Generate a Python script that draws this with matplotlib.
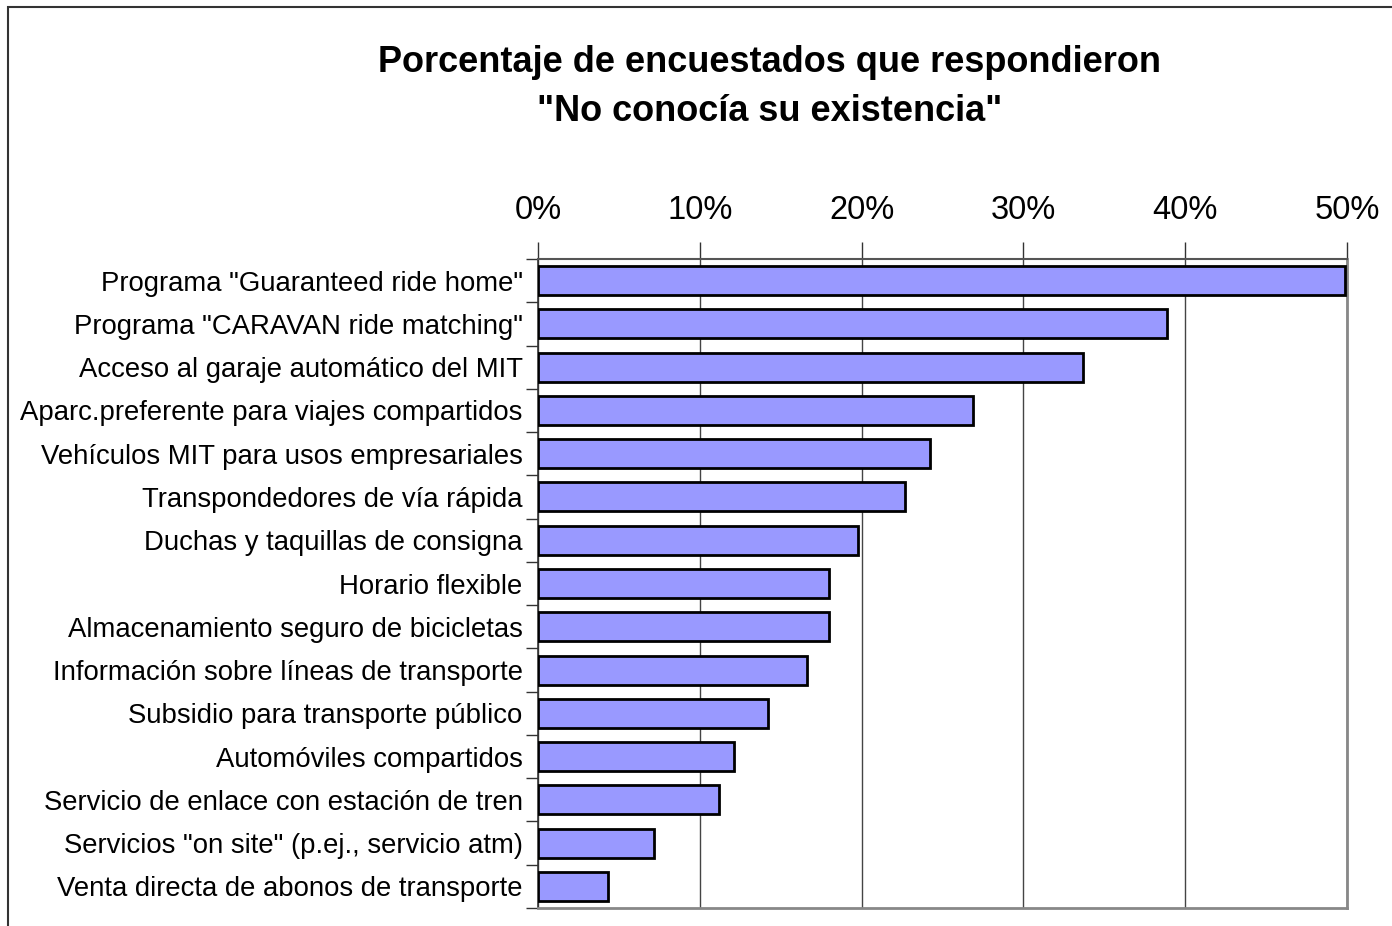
import matplotlib
matplotlib.use("Agg")
import matplotlib.pyplot as plt
import numpy as np
from matplotlib.patches import Rectangle

plt.rcParams['font.family'] = ['Liberation Sans', 'DejaVu Sans']

categories = [
    'Programa "Guaranteed ride home"',
    'Programa "CARAVAN ride matching"',
    'Acceso al garaje automático del MIT',
    'Aparc.preferente para viajes compartidos',
    'Vehículos MIT para usos empresariales',
    'Transpondedores de vía rápida',
    'Duchas y taquillas de consigna',
    'Horario flexible',
    'Almacenamiento seguro de bicicletas',
    'Información sobre líneas de transporte',
    'Subsidio para transporte público',
    'Automóviles compartidos',
    'Servicio de enlace con estación de tren',
    'Servicios "on site" (p.ej., servicio atm)',
    'Venta directa de abonos de transporte',
]
values = [49.9, 38.9, 33.7, 26.9, 24.2, 22.7, 19.8, 18.0, 18.0, 16.6, 14.2, 12.1, 11.2, 7.2, 4.3]
xticks = [0, 10, 20, 30, 40, 50]
xtick_labels = ['0%', '10%', '20%', '30%', '40%', '50%']
title = 'Porcentaje de encuestados que respondieron\n"No conocía su existencia"'

fig = plt.figure(figsize=(13.92, 9.26), dpi=100)
ax = fig.add_axes([538/1392, 1-908/926, (1347-538)/1392, (908-259)/926])

y = np.arange(len(categories))
ax.barh(y, values, height=0.67, color='#9999FF', edgecolor='black', linewidth=2, zorder=3)
ax.set_ylim(len(categories)-0.5, -0.5)
ax.set_xlim(0, 50)

ax.xaxis.tick_top()
ax.set_xticks(xticks)
ax.set_xticklabels(xtick_labels, fontsize=23.5)
ax.tick_params(axis='x', which='major', direction='out', length=12, width=1, color='#333333', pad=12)
ax.grid(axis='x', color='#444444', linewidth=1, zorder=0)

ax.set_yticks(y)
ax.set_yticklabels(categories, fontsize=19.8)
ax.set_yticks(np.arange(len(categories)+1)-0.5, minor=True)
ax.tick_params(axis='y', which='major', length=0, pad=11)
ax.tick_params(axis='y', which='minor', direction='out', length=9, width=1, color='#333333')

ax.spines['top'].set_color('#555555')
ax.spines['top'].set_linewidth(1.5)
ax.spines['left'].set_color('#333333')
ax.spines['left'].set_linewidth(1.2)
ax.spines['right'].set_color('#888888')
ax.spines['right'].set_linewidth(2)
ax.spines['bottom'].set_color('#888888')
ax.spines['bottom'].set_linewidth(2)

fig.text(770/1392, 1-87/926, title, ha='center', va='center', fontsize=26,
         fontweight='bold', linespacing=1.5)

fig.patches.append(Rectangle((8/1392, -0.05), 1.2, 1.05-7/926, transform=fig.transFigure,
                             fill=False, edgecolor='#333333', linewidth=1.5))

fig.savefig('out.png', dpi=100)
